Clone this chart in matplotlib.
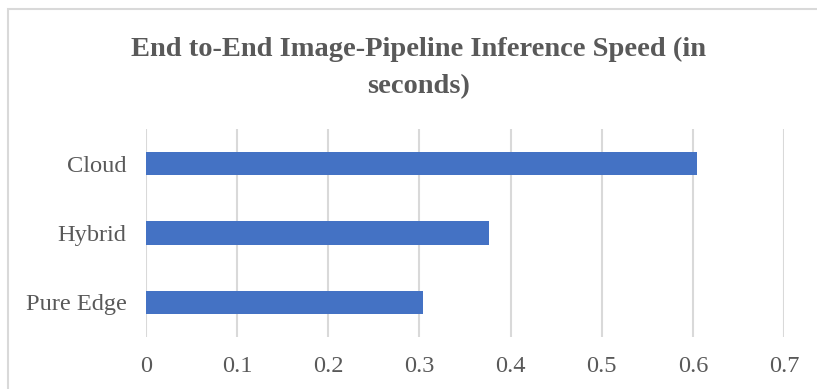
import matplotlib
matplotlib.use("Agg")
import matplotlib.pyplot as plt
from matplotlib.patches import Rectangle

categories = ["Pure Edge", "Hybrid", "Cloud"]
speeds = [0.304, 0.376, 0.605]
x_ticks = [0, 0.1, 0.2, 0.3, 0.4, 0.5, 0.6, 0.7]
x_tick_labels = ["0", "0.1", "0.2", "0.3", "0.4", "0.5", "0.6", "0.7"]
title_lines = ["End to-End Image-Pipeline Inference Speed (in", "seconds)"]

W, H = 817, 389
fig = plt.figure(figsize=(W / 100, H / 100), dpi=100)
fig.patch.set_facecolor("white")

serif = ["Liberation Serif", "DejaVu Serif"]
text_color = "#595959"
grid_color = "#D9D9D9"

# chart-area frame (top and left edges visible)
fig.patches.append(Rectangle((8 / W, -0.1), 1.2, (H - 9) / H + 0.1,
                             transform=fig.transFigure, fill=False,
                             edgecolor=grid_color, linewidth=1.5))

ax = fig.add_axes([146 / W, 1 - 337 / H, (784 - 146) / W, (337 - 129) / H])
ax.barh(range(len(categories)), speeds, height=0.34, color="#4472C4", zorder=3)

ax.set_xlim(0, 0.7)
ax.set_ylim(-0.5, len(categories) - 0.5)
ax.set_xticks(x_ticks)
ax.set_xticklabels(x_tick_labels)
ax.set_yticks(range(len(categories)))
ax.set_yticklabels(categories)
ax.tick_params(length=0, labelsize=17.6, labelcolor=text_color)
ax.tick_params(axis="x", pad=14)
ax.tick_params(axis="y", pad=14)
for lab in ax.get_xticklabels() + ax.get_yticklabels():
    lab.set_family(serif)

ax.grid(axis="x", color=grid_color, linewidth=1.5, zorder=0)
ax.set_axisbelow(True)
for s in ax.spines.values():
    s.set_visible(False)

for line, baseline in zip(title_lines, [55.7, 93.3]):
    fig.text(418.5 / W, 1 - baseline / H, line, ha="center", va="baseline",
             fontsize=20.5, fontweight="bold", color=text_color, family=serif)

fig.savefig("out.png", dpi=100, facecolor="white")
